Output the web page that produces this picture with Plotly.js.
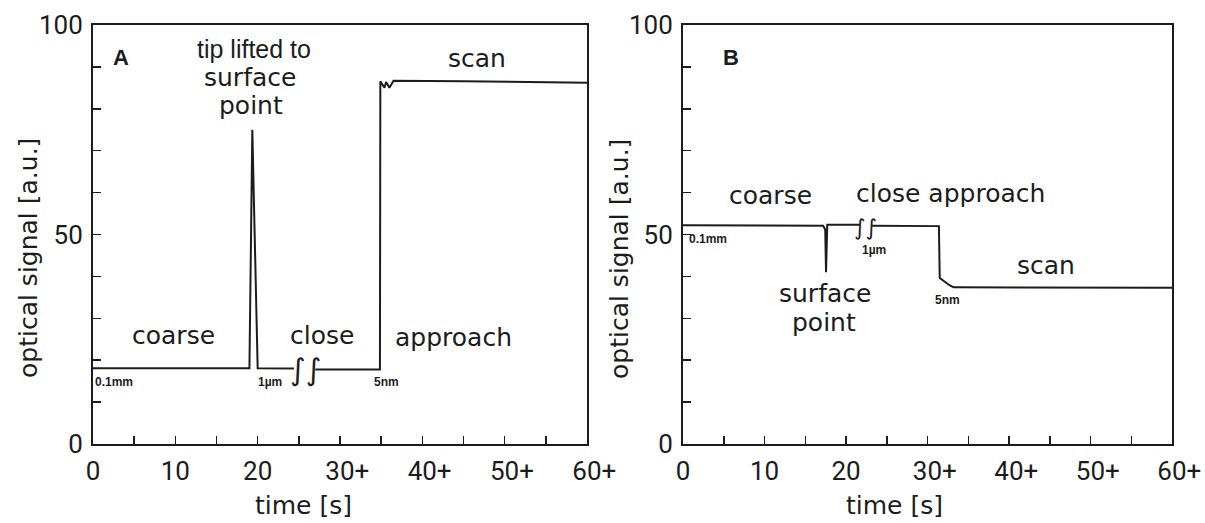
<!DOCTYPE html>
<html>
<head>
<meta charset="utf-8">
<script src="https://cdn.plot.ly/plotly-3.0.1.min.js"></script>
<style>html,body{margin:0;padding:0;background:#fff;}#chart{width:1205px;height:523px;}</style>
</head>
<body>
<div id="chart"></div>
<script>
// ---- data ----
const timeA   = [0, 19.0, 19.35, 20.0, 24.4, null, 27.0, 34.85, 34.9, 35.4, 35.6, 36.0, 36.5, 45, 60];
const signalA = [18.1, 18.1, 75.0, 18.1, 18.0, null, 17.8, 17.8, 86.6, 85.0, 86.4, 85.0, 86.7, 86.6, 86.2];

const timeB   = [0, 17.2, 17.45, 17.55, 17.7, 21.7, null, 23.2, 31.4, 31.5, 31.9, 32.3, 32.7, 33.2, 60];
const signalB = [52.2, 52.1, 51.2, 41.0, 52.3, 52.3, null, 52.1, 52.0, 39.6, 39.0, 38.6, 37.9, 37.4, 37.3];

const xTickVals = [0, 5, 10, 15, 20, 25, 30, 35, 40, 45, 50, 55, 60];
const xTickText = ['0', '', '10', '', '20', '', '\u200730+', '', '\u200740+', '', '\u200750+', '', '\u200760+'];
const yTickVals = [0, 10, 20, 30, 40, 50, 60, 70, 80, 90, 100];
const yTickText = ['0', '', '', '', '', '50', '', '', '', '', '100'];

const xTitle = 'time [s]';
const yTitle = 'optical signal [a.u.]';

// annotation labels: [text, x, y, kind]
const labelsA = [
  ['A', 3.4, 92.2, 'bold'],
  ['tip lifted to', 19.5, 94.3, 'sans'],
  ['surface', 19.1, 87.4, 'din'],
  ['point', 19.2, 80.9, 'din'],
  ['scan', 46.6, 92.1, 'din'],
  ['coarse', 9.8, 26.0, 'din'],
  ['close', 27.8, 26.0, 'din'],
  ['approach', 43.8, 25.5, 'din'],
  ['0.1mm', 2.6, 14.8, 'small'],
  ['1µm', 21.5, 14.8, 'small'],
  ['5nm', 35.6, 14.8, 'small'],
  ['\u222B\u222B', 25.8, 17.7, 'break']
];
const labelsB = [
  ['B', 5.9, 92.2, 'bold'],
  ['coarse', 10.7, 59.3, 'din'],
  ['close approach', 32.8, 59.8, 'din'],
  ['0.1mm', 3.1, 49.0, 'small'],
  ['1µm', 23.4, 46.4, 'small'],
  ['surface', 17.4, 35.9, 'din'],
  ['point', 17.3, 28.9, 'din'],
  ['5nm', 32.4, 34.4, 'small'],
  ['scan', 44.5, 42.6, 'din'],
  ['\u222B\u222B', 22.45, 51.7, 'breakB']
];

// ---- styling ----
const INK = '#1c1c1c';
const DIN = 'DejaVu Sans, sans-serif';
const DIGITS = 'Roboto, DejaVu Sans, sans-serif';
const ARIAL = 'Liberation Sans, Arial, sans-serif';
const fonts = {
  bold:  {family: ARIAL, size: 22, color: INK, weight: 'bold'},
  sans:  {family: ARIAL, size: 25, color: INK},
  din:   {family: DIN, size: 25, color: INK},
  small: {family: ARIAL, size: 12, color: INK, weight: 'bold'},
  break: {family: DIN, size: 30, color: INK},
  breakB:{family: DIN, size: 22, color: INK}
};

function ann(list, xr, yr) {
  return list.map(([t, x, y, k]) => {
    const f = Object.assign({}, fonts[k]);
    let text = t;
    if (f.weight === 'bold') { text = '<b>' + t + '</b>'; }
    delete f.weight;
    return {text: text, x: x, y: y, xref: xr, yref: yr, showarrow: false,
            xanchor: 'center', yanchor: 'middle', font: f};
  });
}

const W = 1205, H = 523;
const common = {
  showline: true, mirror: true, linecolor: INK, linewidth: 2,
  ticks: 'inside', tickcolor: INK, tickwidth: 1.5, ticklen: 8,
  showgrid: false, zeroline: false, fixedrange: true,
  tickfont: {family: DIGITS, size: 26, color: INK}, tickmode: 'array',
  ticklabeloverflow: 'allow'
};
function xax(dom, anchor) {
  return Object.assign({}, common, {domain: dom, anchor: anchor, range: [0, 60],
    tickvals: xTickVals, ticktext: xTickText, ticklabelstandoff: 3});
}
function yax(anchor) {
  return Object.assign({}, common, {domain: [1 - 444 / H, 1 - 25 / H], anchor: anchor, range: [0, 100],
    tickvals: yTickVals, ticktext: yTickText, ticklabelstandoff: 3});
}

const lineStyle = {color: INK, width: 2};
const data = [
  {x: timeA, y: signalA, xaxis: 'x', yaxis: 'y', mode: 'lines', line: lineStyle, hoverinfo: 'skip'},
  {x: timeB, y: signalB, xaxis: 'x2', yaxis: 'y2', mode: 'lines', line: lineStyle, hoverinfo: 'skip'}
];

const titleFont = {family: DIN, size: 25, color: INK};
function title(text, px, py, angle) {
  return {text: text, x: px / W, y: 1 - py / H, xref: 'paper', yref: 'paper', showarrow: false,
          xanchor: 'center', yanchor: 'middle', textangle: angle, font: titleFont};
}
const titles = [
  title(xTitle, 303, 505, 0),
  title(xTitle, 894, 505, 0),
  title(yTitle, 28, 258, -90),
  title(yTitle, 619, 259, -90)
];

const layout = {
  width: W, height: H, margin: {l: 0, r: 0, t: 0, b: 0},
  paper_bgcolor: '#ffffff', plot_bgcolor: '#ffffff', showlegend: false,
  xaxis: xax([93 / W, 587 / W], 'y'),
  yaxis: yax('x'),
  xaxis2: xax([683 / W, 1172 / W], 'y2'),
  yaxis2: yax('x2'),
  annotations: ann(labelsA, 'x', 'y').concat(ann(labelsB, 'x2', 'y2')).concat(titles)
};

Plotly.newPlot('chart', data, layout, {staticPlot: true, displayModeBar: false});
</script>
</body>
</html>
